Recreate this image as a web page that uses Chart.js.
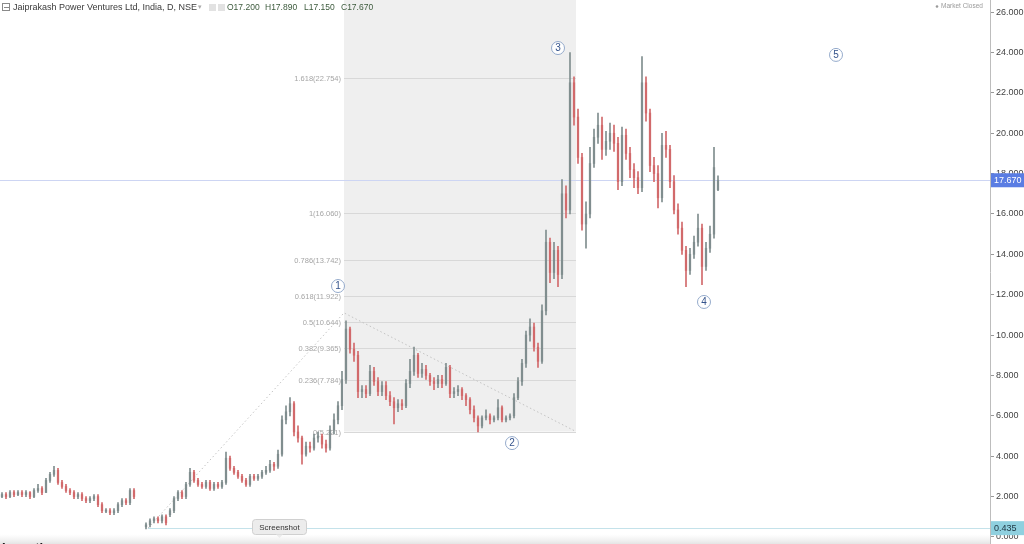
<!DOCTYPE html>
<html>
<head>
<meta charset="utf-8">
<script src="https://cdn.jsdelivr.net/npm/chart.js@4.4.1/dist/chart.umd.min.js"></script>
<style>
  html, body { margin: 0; padding: 0; background: #fff; overflow: hidden; }
  #wrap { width: 1024px; height: 544px; }
</style>
</head>
<body>
<div id="wrap"><canvas id="priceChart" width="1024" height="544"></canvas></div>
<script>
// Daily candles (one candle per ~4px)
const opens = [
  2.0,2.1,2.0,2.2,2.1,2.2,2.1,2.2,2.0,2.3,
  2.4,2.2,2.8,3.1,3.3,2.7,2.5,2.3,2.2,2.0,
  2.1,1.9,1.8,1.9,2.0,1.6,1.3,1.3,1.2,1.3,
  1.6,1.8,1.7,2.3,null,null,0.5,0.6,0.8,0.9,
  0.8,1.0,1.1,1.3,1.9,2.2,2.0,2.6,3.2,2.8,
  2.6,2.5,2.7,2.4,2.6,2.5,2.7,3.9,3.4,3.2,
  3.0,2.8,2.6,3.0,2.9,3.0,3.2,3.3,3.6,3.5,
  4.1,5.8,6.2,6.6,5.2,4.9,4.1,4.5,4.4,4.9,
  5.0,4.6,4.4,5.3,5.8,6.5,7.8,10.3,9.3,9.0,
  7.2,7.3,7.1,8.2,7.7,7.2,7.5,7.0,6.7,6.4,
  6.6,6.5,7.6,8.2,9.0,8.1,8.3,8.0,7.7,7.6,
  7.8,7.6,8.4,7.1,7.2,7.3,7.0,6.8,6.3,5.9,
  5.5,5.9,6.0,5.8,5.9,6.4,5.8,5.9,6.0,6.9,
  7.7,8.6,10.0,10.4,9.4,8.7,11.2,14.6,13.1,14.2,
  13.0,17.0,16.2,22.5,20.8,18.8,15.5,16.0,18.5,19.8,
  20.4,19.2,19.6,20.0,19.5,17.6,19.9,19.0,18.2,17.8,
  17.3,22.5,21.0,18.4,18.0,16.8,19.4,19.2,17.6,16.2,
  15.3,14.2,13.2,14.0,14.6,15.3,13.4,14.3,15.0,17.2
];
const highs = [
  2.2,2.2,2.3,2.3,2.3,2.3,2.3,2.25,2.4,2.6,
  2.5,2.9,3.2,3.5,3.4,2.8,2.6,2.4,2.3,2.2,
  2.2,2.0,2.0,2.1,2.1,1.7,1.4,1.4,1.4,1.7,
  1.9,1.9,2.4,2.4,null,null,0.7,0.9,1.0,1.0,
  1.1,1.1,1.4,2.0,2.3,2.3,2.7,3.4,3.3,2.9,
  2.7,2.8,2.8,2.7,2.7,2.8,4.2,4.0,3.5,3.3,
  3.1,2.9,3.1,3.1,3.1,3.3,3.5,3.8,3.7,4.3,
  6.0,6.5,6.9,6.7,5.5,5.0,4.7,4.7,5.1,5.2,
  5.1,4.8,5.5,6.1,6.7,8.2,10.7,10.4,9.6,9.2,
  7.5,7.5,8.5,8.4,7.9,7.7,7.7,7.2,6.9,6.8,
  6.8,7.8,8.8,9.4,9.1,8.6,8.5,8.1,7.9,8.0,
  8.0,8.6,8.5,7.4,7.5,7.4,7.1,6.9,6.5,6.0,
  6.0,6.3,6.1,6.0,6.8,6.5,6.0,6.1,7.1,7.9,
  8.8,10.2,10.8,10.6,9.6,11.5,15.2,14.8,14.6,14.4,
  17.7,17.4,24.0,22.8,21.2,19.0,16.6,19.3,20.2,21.0,
  20.8,20.1,20.5,20.4,19.8,20.3,20.2,19.3,18.5,18.1,
  23.8,22.8,21.2,18.8,18.4,20.0,20.1,19.4,17.9,16.5,
  15.6,14.4,14.3,14.9,16.0,15.5,14.6,15.4,19.3,17.89
];
const lows = [
  1.95,1.9,1.95,2.0,2.05,2.0,2.0,1.9,1.95,2.2,
  2.1,2.2,2.7,3.0,2.6,2.4,2.2,2.1,1.9,1.9,
  1.8,1.7,1.7,1.8,1.5,1.2,1.2,1.1,1.1,1.2,
  1.5,1.6,1.6,1.9,null,null,0.4,0.5,0.7,0.7,
  0.7,0.6,1.0,1.2,1.8,1.9,1.9,2.5,2.7,2.5,
  2.4,2.4,2.3,2.3,2.4,2.4,2.6,3.3,3.1,2.9,
  2.7,2.5,2.5,2.8,2.8,2.9,3.1,3.2,3.3,3.4,
  4.0,5.6,6.0,5.0,4.7,3.6,4.0,4.2,4.3,4.7,
  4.4,4.2,4.3,5.1,5.6,6.3,7.6,9.1,8.7,6.9,
  6.9,6.9,7.0,7.5,7.0,7.0,6.8,6.5,5.6,6.2,
  6.3,6.4,7.4,8.0,7.9,7.9,7.8,7.5,7.3,7.4,
  7.4,7.5,6.9,6.9,7.0,6.8,6.5,6.1,5.7,5.2,
  5.4,5.8,5.6,5.7,5.8,5.7,5.7,5.8,5.9,6.8,
  7.5,8.4,9.7,9.2,8.4,8.6,11.0,12.6,12.8,12.4,
  12.8,15.8,16.0,20.4,18.5,15.2,14.3,15.8,18.3,19.5,
  18.7,18.9,19.2,19.1,17.2,17.4,18.7,17.8,17.3,17.0,
  17.1,20.6,18.1,17.6,16.3,16.6,18.8,17.3,16.0,15.0,
  14.0,12.4,13.0,13.8,14.4,12.5,13.2,14.1,14.8,17.15
];
const closes = [
  2.1,2.0,2.2,2.1,2.2,2.1,2.2,2.0,2.3,2.4,
  2.2,2.8,3.1,3.3,2.7,2.5,2.3,2.2,2.0,2.1,
  1.9,1.8,1.9,2.0,1.6,1.3,1.3,1.2,1.3,1.6,
  1.8,1.7,2.3,2.0,null,null,0.6,0.8,0.9,0.8,
  1.0,0.7,1.3,1.9,2.2,2.0,2.6,3.2,2.8,2.6,
  2.5,2.7,2.4,2.6,2.5,2.7,3.9,3.4,3.2,3.0,
  2.8,2.6,3.0,2.9,3.0,3.2,3.3,3.6,3.5,4.1,
  5.8,6.2,6.6,5.2,4.9,4.1,4.5,4.4,4.9,5.0,
  4.6,4.4,5.3,5.8,6.5,7.8,10.3,9.3,9.0,7.2,
  7.3,7.1,8.2,7.7,7.2,7.5,7.0,6.7,6.4,6.6,
  6.5,7.6,8.2,9.0,8.1,8.3,8.0,7.7,7.6,7.8,
  7.6,8.4,7.1,7.2,7.3,7.0,6.8,6.3,5.9,5.5,
  5.9,6.0,5.8,5.9,6.4,5.8,5.9,6.0,6.9,7.7,
  8.6,10.0,10.4,9.4,8.7,11.2,14.6,13.1,14.2,13.0,
  17.0,16.2,22.5,20.8,18.8,15.5,16.0,18.5,19.8,20.4,
  19.2,19.6,20.0,19.5,17.6,19.9,19.0,18.2,17.8,17.3,
  22.5,21.0,18.4,18.0,16.8,19.4,19.2,17.6,16.2,15.3,
  14.2,13.2,14.0,14.6,15.3,13.4,14.3,15.0,18.3,17.67
];

const yTicks = [0, 2, 4, 6, 8, 10, 12, 14, 16, 18, 20, 22, 24, 26];

// Fibonacci retracement drawn on the chart
const fibRatios = ['1.618', '1', '0.786', '0.618', '0.5', '0.382', '0.236', '0'];
const fibPrices = [22.754, 16.060, 13.742, 11.922, 10.644, 9.365, 7.784, 5.221];
const fibFrom = 85.5, fibTo = 143.5;

// dotted trend line (candle index, price)
const trendIdx = [36.5, 85.5, 143.5];
const trendVals = [0.435, 11.1, 5.221];

// Elliott wave markers
const waveNames = ['1', '2', '3', '4', '5'];
const waveIdx = [84, 127.5, 139, 175.5, 208.5];
const waveVals = [12.43, 4.65, 24.22, 11.64, 23.88];

const lastPrice = 17.670;
const lowLine = 0.435;
const header = 'Jaiprakash Power Ventures Ltd, India, D, NSE';
const ohlcText = [['O', '17.200'], ['H', '17.890'], ['L', '17.150'], ['C', '17.670']];

const UP = '#808e8f', DOWN = '#d26a6c';

const wickData = [], bodyData = [], colors = [];
for (let i = 0; i < closes.length; i++) {
  if (closes[i] === null) continue;
  const o = opens[i], c = closes[i];
  wickData.push({ x: i, y: [lows[i], highs[i]] });
  const lo = Math.min(o, c), hi = Math.max(o, c);
  bodyData.push({ x: i, y: hi - lo < 0.05 ? [lo - 0.03, hi + 0.03] : [lo, hi] });
  colors.push(c >= o ? UP : DOWN);
}

const overlay = {
  id: 'overlay',
  beforeDatasetsDraw(chart) {
    const ctx = chart.ctx, xs = chart.scales.x, ys = chart.scales.y, area = chart.chartArea;
    const x0 = xs.getPixelForValue(fibFrom), x1 = xs.getPixelForValue(fibTo);
    ctx.save();
    // fib shaded box
    ctx.fillStyle = '#efefef';
    ctx.fillRect(x0, area.top, x1 - x0, ys.getPixelForValue(fibPrices[7]) - area.top);
    // fib levels
    ctx.strokeStyle = '#d8d8d8';
    ctx.lineWidth = 1;
    ctx.font = '7.5px "Liberation Sans", Arial, sans-serif';
    ctx.fillStyle = '#a5a5a5';
    ctx.textAlign = 'right';
    ctx.textBaseline = 'middle';
    fibPrices.forEach((p, k) => {
      const y = Math.round(ys.getPixelForValue(p)) + 0.5;
      ctx.beginPath(); ctx.moveTo(x0, y); ctx.lineTo(x1, y); ctx.stroke();
      ctx.fillText(fibRatios[k] + '(' + p.toFixed(3) + ')', x0 - 3, y);
    });
    // last price line
    let y = Math.round(ys.getPixelForValue(lastPrice)) + 0.5;
    ctx.strokeStyle = '#cdd5f3';
    ctx.beginPath(); ctx.moveTo(area.left, y); ctx.lineTo(area.right, y); ctx.stroke();
    // low line
    y = Math.round(ys.getPixelForValue(lowLine)) + 0.5;
    ctx.strokeStyle = '#c4e2ea';
    ctx.beginPath(); ctx.moveTo(xs.getPixelForValue(trendIdx[0]), y); ctx.lineTo(area.right, y); ctx.stroke();
    // dotted trend line
    ctx.strokeStyle = '#c4c4c4';
    ctx.setLineDash([1.5, 2.5]);
    ctx.beginPath();
    trendIdx.forEach((t, k) => {
      const px = xs.getPixelForValue(t), py = ys.getPixelForValue(trendVals[k]);
      if (k === 0) ctx.moveTo(px, py); else ctx.lineTo(px, py);
    });
    ctx.stroke();
    ctx.restore();
  },
  afterDraw(chart) {
    const ctx = chart.ctx, xs = chart.scales.x, ys = chart.scales.y, area = chart.chartArea;
    ctx.save();
    // wave markers
    ctx.textAlign = 'center';
    ctx.textBaseline = 'middle';
    ctx.font = '10px "Liberation Sans", Arial, sans-serif';
    waveNames.forEach((n, k) => {
      const px = xs.getPixelForValue(waveIdx[k]), py = ys.getPixelForValue(waveVals[k]);
      ctx.beginPath(); ctx.arc(px, py, 6.5, 0, Math.PI * 2);
      ctx.fillStyle = 'rgba(255,255,255,0.9)'; ctx.fill();
      ctx.strokeStyle = '#94aacb'; ctx.lineWidth = 1; ctx.stroke();
      ctx.fillStyle = '#34538c';
      ctx.fillText(n, px, py + 0.5);
    });
    // price tags on the axis
    const tag = (v, bg, fg) => {
      const py = ys.getPixelForValue(v);
      ctx.fillStyle = bg;
      ctx.fillRect(area.right + 1, py - 7, 1024 - area.right - 1, 14);
      ctx.fillStyle = fg;
      ctx.textAlign = 'left';
      ctx.font = '9px "Liberation Sans", Arial, sans-serif';
      ctx.fillText(v.toFixed(3), area.right + 4, py + 0.5);
    };
    tag(lastPrice, '#5a7de3', '#ffffff');
    tag(lowLine, '#8fd0df', '#1d3440');
    // header
    ctx.strokeStyle = '#8a8a8a';
    ctx.strokeRect(2.5, 3.5, 7, 7);
    ctx.beginPath(); ctx.moveTo(4, 7.5); ctx.lineTo(9, 7.5); ctx.stroke();
    ctx.textAlign = 'left';
    ctx.font = '9px "Liberation Sans", Arial, sans-serif';
    ctx.fillStyle = '#3a3a3a';
    ctx.fillText(header, 13, 7.5);
    ctx.fillStyle = '#aaaaaa';
    ctx.font = '7px "Liberation Sans", Arial, sans-serif';
    ctx.fillText('\u25BE', 198, 7.5);
    ctx.fillStyle = '#e2e2e2';
    ctx.fillRect(209, 4, 7, 7); ctx.fillRect(218, 4, 7, 7);
    ctx.font = '8.5px "Liberation Sans", Arial, sans-serif';
    const ohlcX = [227, 265, 304, 341];
    ohlcText.forEach((p, k) => {
      ctx.fillStyle = '#3c5a3c';
      ctx.fillText(p[0] + p[1], ohlcX[k], 7.5);
    });
    // market status
    ctx.fillStyle = '#9a9a9a';
    ctx.beginPath(); ctx.arc(937, 6.5, 1.3, 0, Math.PI * 2); ctx.fill();
    ctx.font = '6.5px "Liberation Sans", Arial, sans-serif';
    ctx.fillText('Market Closed', 941, 6.5);
    // bottom strip, screenshot button and logo
    const g = ctx.createLinearGradient(0, 534, 0, 544);
    g.addColorStop(0, 'rgba(235,235,235,0)');
    g.addColorStop(1, 'rgba(225,225,225,0.9)');
    ctx.fillStyle = g;
    ctx.fillRect(0, 534, area.right, 10);
    ctx.fillStyle = '#ececec';
    ctx.strokeStyle = '#d0d0d0';
    ctx.beginPath(); ctx.roundRect(252.5, 519.5, 54, 15, 3); ctx.fill(); ctx.stroke();
    ctx.beginPath(); ctx.moveTo(276, 534.5); ctx.lineTo(279.5, 538); ctx.lineTo(283, 534.5); ctx.fill();
    ctx.fillStyle = '#333';
    ctx.textAlign = 'center';
    ctx.font = '8px "Liberation Sans", Arial, sans-serif';
    ctx.fillText('Screenshot', 279.5, 527.5);
    ctx.textAlign = 'left';
    ctx.textBaseline = 'alphabetic';
    ctx.fillStyle = '#1a1a1a';
    ctx.font = 'bold 13px "Liberation Sans", Arial, sans-serif';
    ctx.fillText('Investing', 2, 552);
    ctx.restore();
  }
};

new Chart(document.getElementById('priceChart'), {
  type: 'bar',
  data: {
    datasets: [{
      label: 'wick',
      data: wickData,
      backgroundColor: colors,
      barThickness: 1,
      grouped: false
    }, {
      label: 'body',
      data: bodyData,
      backgroundColor: colors,
      barThickness: 1.6,
      grouped: false
    }]
  },
  options: {
    responsive: false,
    animation: false,
    layout: { padding: 0 },
    plugins: { legend: { display: false }, tooltip: { enabled: false } },
    scales: {
      x: { type: 'linear', min: -0.5, max: 247, display: false, offset: false },
      y: {
        position: 'right',
        min: -0.35,
        max: 26.6,
        afterBuildTicks: s => { s.ticks = yTicks.map(v => ({ value: v })); },
        afterFit: s => { s.width = 34; s.paddingTop = 0; s.paddingBottom = 0; },
        ticks: {
          callback: v => v.toFixed(3),
          color: '#444',
          padding: 2,
          font: { size: 9, family: '"Liberation Sans", Arial, sans-serif' }
        },
        grid: { drawOnChartArea: false, tickLength: 4, color: '#999' },
        border: { color: '#bdbdbd' }
      }
    }
  },
  plugins: [overlay]
});
</script>
</body>
</html>
